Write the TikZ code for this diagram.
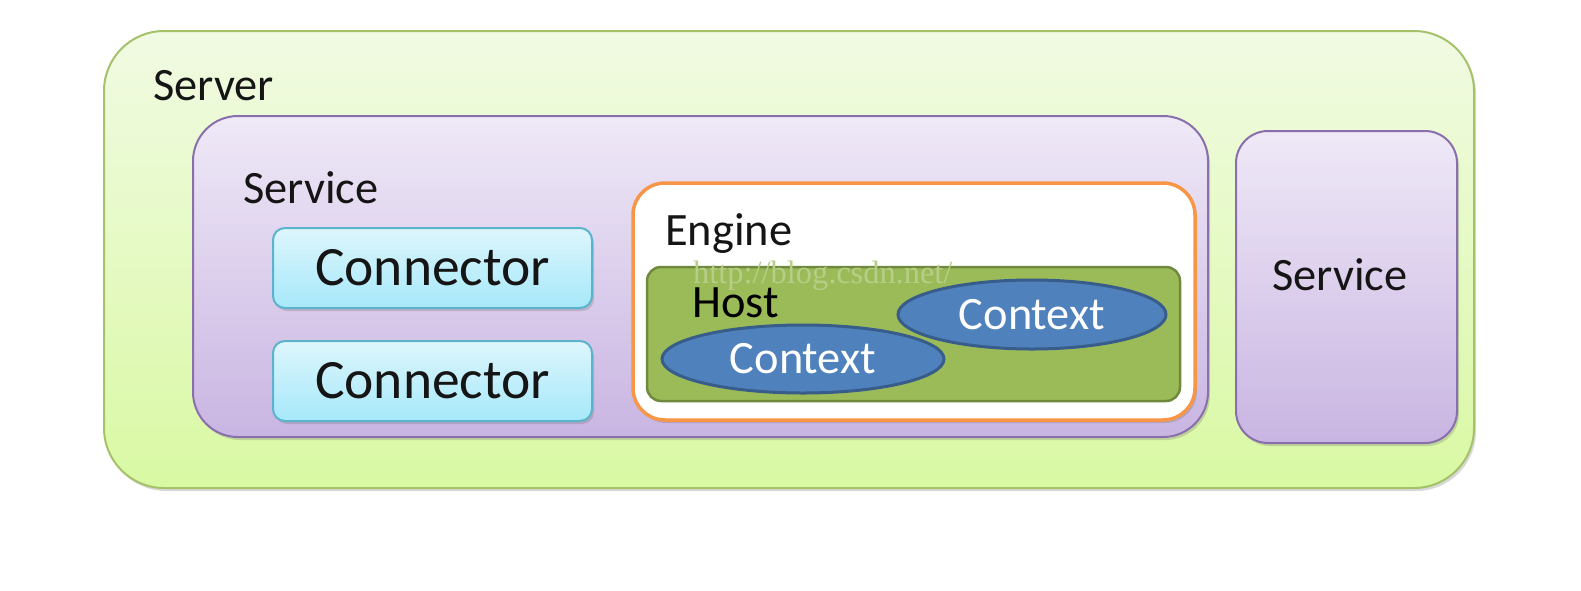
\documentclass[tikz,border=0pt]{standalone}
\usepackage{fontspec}
\setmainfont{Carlito}
\newfontfamily\wmfont{Liberation Serif}
\usetikzlibrary{shapes.geometric,shadows}
\definecolor{srvfillT}{HTML}{F1FAE3}
\definecolor{srvfillB}{HTML}{D9F9A3}
\definecolor{srvdraw}{HTML}{A5C26A}
\definecolor{svcfillT}{HTML}{EFE9F7}
\definecolor{svcfillB}{HTML}{C9B5E2}
\definecolor{svcdraw}{HTML}{8A6FAD}
\definecolor{confillT}{HTML}{DDF6FC}
\definecolor{confillB}{HTML}{A6E8FA}
\definecolor{condraw}{HTML}{5BB4CC}
\definecolor{engdraw}{HTML}{F79646}
\definecolor{hostfill}{HTML}{9BBB59}
\definecolor{hostdraw}{HTML}{6F8A3E}
\definecolor{ctxfill}{HTML}{4F81BD}
\definecolor{ctxdraw}{HTML}{385D8A}
\definecolor{txt}{HTML}{151515}
\tikzset{
  box/.style={rectangle, anchor=north west, inner sep=0pt, outer sep=0pt},
  shad/.style={drop shadow={shadow xshift=2pt, shadow yshift=-3pt, opacity=0.25, fill=black!60}},
  lbl/.style={anchor=base west, inner sep=0pt, text=txt, font=\fontsize{46.4}{55}\selectfont},
  conbox/.style={box, rounded corners=12pt, draw=condraw, line width=2pt, top color=confillT, bottom color=confillB, shad, minimum width=319pt, minimum height=80pt, text=txt, font=\fontsize{55.5}{66}\selectfont},
  ctx/.style={ellipse, draw=ctxdraw, line width=3pt, fill=ctxfill, inner sep=0pt, text=white, font=\fontsize{46.4}{55}\selectfont}
}
\begin{document}
\begin{tikzpicture}[x=1pt,y=-1pt]
\useasboundingbox[fill=white] (0,0) rectangle (1581,590);
% Server
\node[box, rounded corners=60pt, draw=srvdraw, line width=2pt, top color=srvfillT, bottom color=srvfillB, shad, minimum width=1370pt, minimum height=457pt] (server) at (104,31) {};
\node[lbl] (serverlbl) at (153,100) {Server};
% Service (left)
\node[box, rounded corners=45pt, draw=svcdraw, line width=2pt, top color=svcfillT, bottom color=svcfillB, shad, minimum width=1015pt, minimum height=321pt] (service) at (193,116) {};
\node[lbl] (servicelbl) at (243,203) {Service};
% Connectors
\node[conbox] (con1) at (273,228) {Connector};
\node[conbox] (con2) at (273,341) {Connector};
% Engine
\node[box, rounded corners=32pt, draw=engdraw, line width=3.5pt, fill=white, shad, minimum width=562pt, minimum height=237pt] (engine) at (633,183) {};
\node[lbl] (enginelbl) at (665,245) {Engine};
% Host
\node[box, rounded corners=14pt, draw=hostdraw, line width=2.5pt, fill=hostfill, minimum width=533pt, minimum height=134pt] (host) at (647,267) {};
\node[anchor=base west, inner sep=0pt, text=hostfill!72!white, font=\fontsize{32.4}{36}\wmfont] (wm) at (693,283) {http://blog.csdn.net/};
\node[lbl, text=black] (hostlbl) at (692,317) {Host};
% Contexts
\node[ctx, minimum width=268pt, minimum height=69pt] (ctx1) at (1032,314.5) {Context};
\node[ctx, minimum width=282pt, minimum height=68pt] (ctx2) at (803,359) {Context};
% Service (right)
\node[box, rounded corners=32pt, draw=svcdraw, line width=2pt, top color=svcfillT, bottom color=svcfillB, shad, minimum width=221pt, minimum height=312pt] (service2) at (1236,131) {};
\node[lbl] (service2lbl) at (1272,290) {Service};
\end{tikzpicture}
\end{document}
